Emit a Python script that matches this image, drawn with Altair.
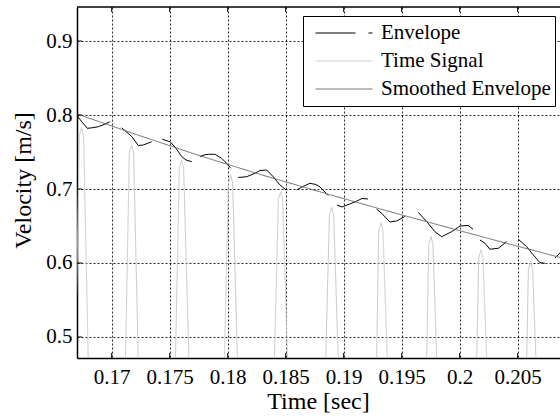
import altair as alt
import pandas as pd

SERIES = ["Envelope", "Time Signal", "Smoothed Envelope"]
SERIES_COLORS = ["#000000", "#c8c8c8", "#6b6b6b"]
SERIES_DASHES = [[40, 13, 4, 13], [1, 0], [1, 0]]

X_TICKS = [0.17, 0.175, 0.18, 0.185, 0.19, 0.195, 0.2, 0.205]
Y_TICKS = [0.5, 0.6, 0.7, 0.8, 0.9]
X_RANGE = [0.16701, 0.20865]
Y_RANGE = [0.4716, 0.9460]

# Envelope, drawn as separate short pieces (one list per piece)
env_t = [
    [0.16701, 0.16744, 0.16790, 0.16830, 0.16885, 0.16934, 0.16985],
    [0.17086, 0.17123, 0.17172, 0.17201, 0.17229, 0.17272, 0.17345],
    [0.17436, 0.17503, 0.17546, 0.17603, 0.17641, 0.17690],
    [0.17761, 0.17796, 0.17833, 0.17891, 0.17948, 0.17991, 0.18026],
    [0.18091, 0.18164, 0.18235, 0.18278, 0.18336],
    [0.18336, 0.18393, 0.18445, 0.18503],
    [0.18595, 0.18649, 0.18709, 0.18761, 0.18796, 0.18830, 0.18867],
    [0.18942, 0.18985, 0.19054, 0.19115, 0.19158, 0.19209],
    [0.19284, 0.19328, 0.19365, 0.19399, 0.19457, 0.19528],
    [0.19643, 0.19716, 0.19787, 0.19845],
    [0.19845, 0.19931, 0.20003, 0.20074, 0.20115],
    [0.20175, 0.20218, 0.20261, 0.20333, 0.20405],
    [0.20505, 0.20578, 0.20634, 0.20692, 0.20735],
    [0.20822, 0.20847, 0.20865],
]
env_v = [
    [0.7993, 0.7905, 0.7820, 0.7827, 0.7842, 0.7872, 0.7909],
    [0.7828, 0.7777, 0.7710, 0.7649, 0.7588, 0.7595, 0.7639],
    [0.7672, 0.7639, 0.7568, 0.7439, 0.7392, 0.7369],
    [0.7437, 0.7460, 0.7469, 0.7469, 0.7415, 0.7347, 0.7280],
    [0.7156, 0.7166, 0.7212, 0.7250, 0.7257],
    [0.7257, 0.7166, 0.7064, 0.6987],
    [0.6987, 0.7034, 0.7077, 0.7061, 0.7027, 0.6973, 0.6912],
    [0.6784, 0.6757, 0.6798, 0.6838, 0.6872, 0.6865],
    [0.6730, 0.6672, 0.6609, 0.6554, 0.6568, 0.6629],
    [0.6685, 0.6559, 0.6423, 0.6356],
    [0.6356, 0.6423, 0.6500, 0.6507, 0.6456],
    [0.6311, 0.6267, 0.6186, 0.6199, 0.6288],
    [0.6321, 0.6221, 0.6109, 0.6005, 0.5997],
    [0.6068, 0.6109, 0.6136],
]

# Raw velocity signal (troughs lie far below the visible range)
sig_t = [
    0.16525,
    0.16688, 0.16721, 0.16741, 0.16758, 0.16798, 0.16957,
    0.17119, 0.17152, 0.17172, 0.17189, 0.17229, 0.17388,
    0.17550, 0.17583, 0.17603, 0.17620, 0.17666, 0.17815,
    0.17972, 0.18006, 0.18026, 0.18043, 0.18084, 0.18242,
    0.18403, 0.18437, 0.18457, 0.18474, 0.18516, 0.18677,
    0.18845, 0.18877, 0.18897, 0.18914, 0.18953, 0.19110,
    0.19284, 0.19302, 0.19322, 0.19339, 0.19376, 0.19538,
    0.19716, 0.19733, 0.19753, 0.19770, 0.19802, 0.19969,
    0.20147, 0.20164, 0.20184, 0.20201, 0.20233, 0.20398,
    0.20578, 0.20592, 0.20612, 0.20629, 0.20658, 0.20830,
]
sig_v = [
    -0.78,
    0.47, 0.7720, 0.7828, 0.7720, 0.47, -0.76,
    0.47, 0.7487, 0.7595, 0.7487, 0.47, -0.74,
    0.47, 0.7284, 0.7392, 0.7284, 0.47, -0.72,
    0.47, 0.7081, 0.7189, 0.7081, 0.47, -0.70,
    0.47, 0.6856, 0.6964, 0.6856, 0.47, -0.68,
    0.47, 0.6645, 0.6753, 0.6645, 0.47, -0.66,
    0.47, 0.6437, 0.6545, 0.6437, 0.47, -0.64,
    0.47, 0.6248, 0.6356, 0.6248, 0.47, -0.62,
    0.47, 0.6068, 0.6176, 0.6068, 0.47, -0.60,
    0.47, 0.5910, 0.6018, 0.5910, 0.47, -0.59,
]

smooth_t = [0.16701, 0.17244, 0.17761, 0.18278, 0.18796, 0.19313, 0.19830, 0.20347, 0.20865]
smooth_v = [0.8014, 0.7720, 0.7449, 0.7198, 0.6962, 0.6731, 0.6509, 0.6290, 0.6075]

rows = []
for i, (ts, vs) in enumerate(zip(env_t, env_v)):
    for t, v in zip(ts, vs):
        rows.append({"t": t, "v": v, "series": "Envelope", "seg": f"env{i}"})
for t, v in zip(sig_t, sig_v):
    rows.append({"t": t, "v": v, "series": "Time Signal", "seg": "sig"})
for t, v in zip(smooth_t, smooth_v):
    rows.append({"t": t, "v": v, "series": "Smoothed Envelope", "seg": "smooth"})
lines = pd.DataFrame(rows)

FONT = "Liberation Serif"

x_enc = alt.X(
    "t:Q",
    scale=alt.Scale(domain=X_RANGE, nice=False, zero=False),
    axis=alt.Axis(
        values=X_TICKS, format="~g", title="Time [sec]",
        labelFont=FONT, titleFont=FONT,
        labelBaseline="alphabetic", labelPadding=25,
        titleX=241, titleY=50, titleBaseline="alphabetic", titleAlign="center",
    ),
)
y_enc = alt.Y(
    "v:Q",
    scale=alt.Scale(domain=Y_RANGE, nice=False, zero=False),
    axis=alt.Axis(
        values=Y_TICKS, format="~g", title="Velocity [m/s]",
        labelFont=FONT, titleFont=FONT,
        labelPadding=5,
        titleX=-47, titleY=173, titleBaseline="alphabetic", titleAlign="center", titleAngle=270,
    ),
)

legend = alt.Legend(
    title=None, orient="none", legendX=226, legendY=9,
    symbolType="stroke", symbolSize=3249, symbolStrokeWidth=1,
    clipHeight=26, rowPadding=2, padding=4, symbolOffset=8, labelOffset=8,
    labelFont=FONT, labelFontSize=21, labelColor="#000000", labelLimit=400,
    strokeColor="#000000", fillColor="#ffffff",
)

curves = alt.Chart(lines).mark_line(strokeWidth=1, clip=True).encode(
    x=x_enc,
    y=y_enc,
    color=alt.Color("series:N", scale=alt.Scale(domain=SERIES, range=SERIES_COLORS), legend=legend),
    strokeDash=alt.StrokeDash("series:N", scale=alt.Scale(domain=SERIES, range=SERIES_DASHES), legend=legend),
    detail="seg:N",
)

# Inward tick marks on the bottom, top and left edges
TICK_V = 0.0068
TICK_T = 0.00043
xt = pd.DataFrame({"t": X_TICKS})
yt = pd.DataFrame({"v": Y_TICKS})
bottom_ticks = alt.Chart(xt).mark_rule(color="#000000", strokeWidth=1).encode(
    x=x_enc, y=alt.datum(Y_RANGE[0]), y2=alt.datum(Y_RANGE[0] + TICK_V))
top_ticks = alt.Chart(xt).mark_rule(color="#000000", strokeWidth=1).encode(
    x=x_enc, y=alt.datum(Y_RANGE[1]), y2=alt.datum(Y_RANGE[1] - TICK_V))
left_ticks = alt.Chart(yt).mark_rule(color="#000000", strokeWidth=1).encode(
    y=y_enc, x=alt.datum(X_RANGE[0]), x2=alt.datum(X_RANGE[0] + TICK_T))
top_border = alt.Chart(pd.DataFrame({"v": [Y_RANGE[1]]})).mark_rule(
    color="#000000", strokeWidth=1.5).encode(y=y_enc)

chart = alt.layer(curves, bottom_ticks, top_ticks, left_ticks, top_border).properties(
    width=483, height=351,
    autosize=alt.AutoSizeParams(type="none"),
    padding={"left": 77, "top": 7, "right": 0, "bottom": 59},
    background="#ffffff",
).configure(
    font=FONT
).configure_view(
    stroke="transparent"
).configure_axis(
    grid=True, gridColor="#000000", gridDash=[2, 2], gridWidth=1, gridOpacity=0.85,
    ticks=False, tickSize=0, domainColor="#000000", domainWidth=1.5,
    labelFont=FONT, labelFontSize=21, labelColor="#000000", labelFlush=False,
    titleFont=FONT, titleFontSize=24, titleFontWeight="normal", titleColor="#000000",
).configure_legend(
    labelFont=FONT, labelFontSize=21, labelColor="#000000",
)

chart.save("out.html", embed_options={"renderer": "svg", "actions": False})
